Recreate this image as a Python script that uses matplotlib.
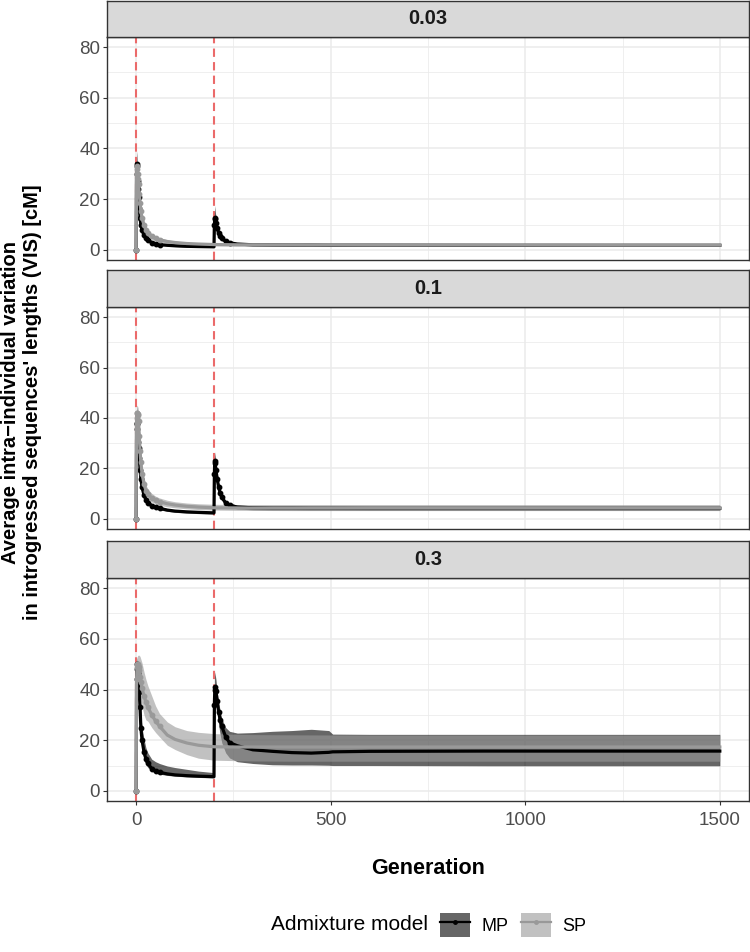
import matplotlib

matplotlib.use("Agg")
import matplotlib.pyplot as plt
from matplotlib.lines import Line2D
from matplotlib.patches import Patch
from matplotlib.legend_handler import HandlerTuple

plt.rcParams['font.family'] = ['Liberation Sans', 'DejaVu Sans']
plt.rcParams['axes.unicode_minus'] = True

# facet labels
facets = ["0.03", "0.1", "0.3"]

# generations sampled for each model (MP has a second pulse at 200)
gen_mp = [0, 1, 2, 3, 4, 5, 6, 8, 10, 12, 15, 20, 25, 30, 40, 50, 60, 80, 100, 130, 160, 200,
          201, 202, 203, 205, 208, 212, 216, 220, 230, 240, 260, 300, 350, 400, 450, 495, 505,
          600, 900, 1200, 1500]
gen_sp = [0, 1, 2, 3, 4, 5, 6, 8, 10, 12, 15, 20, 25, 30, 40, 50, 60, 80, 100, 130, 160, 200,
          260, 300, 400, 600, 900, 1200, 1500]

# ---- 0.03 ----
mp_mean_a = [0, 34, 33, 30, 27, 24, 21, 16.5, 12.5, 10, 7.8, 5.9, 4.6, 3.8, 2.9, 2.4, 2.1, 1.8, 1.6, 1.4, 1.3, 1.2,
             10, 12.5, 12, 10.5, 8.5, 6.6, 5.4, 4.6, 3.4, 2.8, 2.3, 2.0, 1.95, 1.9, 1.9, 1.85, 1.85, 1.85, 1.8, 1.8, 1.8]
mp_up_a = [0, 39, 37.5, 34, 30.5, 27.5, 24, 19, 14.5, 11.5, 9, 6.8, 5.4, 4.5, 3.4, 2.8, 2.5, 2.1, 1.9, 1.7, 1.6, 1.5,
           15, 17.5, 15.5, 13, 10.5, 8.2, 6.6, 5.6, 4.2, 3.4, 2.8, 2.5, 2.4, 2.3, 2.3, 2.25, 2.25, 2.2, 2.2, 2.2, 2.2]
mp_low_a = [0, 29, 28.5, 26, 23.5, 20.5, 18, 14, 10.5, 8.5, 6.6, 5.0, 3.8, 3.1, 2.4, 2.0, 1.7, 1.5, 1.3, 1.1, 1.0, 0.9,
            5, 8, 8.5, 8, 6.6, 5.1, 4.2, 3.6, 2.6, 2.2, 1.8, 1.6, 1.5, 1.5, 1.5, 1.45, 1.45, 1.45, 1.4, 1.4, 1.4]
sp_mean_a = [0, 30, 33, 32, 30, 28, 26, 22, 18.5, 15.5, 12.5, 9.8, 8.0, 6.8, 5.3, 4.5, 4.0, 3.3, 2.9, 2.5, 2.3, 2.1,
             2.0, 2.0, 1.95, 1.9, 1.9, 1.85, 1.85]
sp_up_a = [0, 34, 36.5, 35.5, 33.5, 31.5, 29.5, 25, 21, 17.8, 14.5, 11.5, 9.4, 8.0, 6.3, 5.4, 4.8, 4.0, 3.5, 3.0, 2.8, 2.6,
           2.5, 2.4, 2.35, 2.3, 2.3, 2.3, 2.3]
sp_low_a = [0, 26, 29.5, 28.5, 26.5, 24.5, 22.5, 19, 16, 13.2, 10.5, 8.1, 6.6, 5.6, 4.3, 3.6, 3.2, 2.6, 2.3, 2.0, 1.8, 1.6,
            1.5, 1.5, 1.45, 1.45, 1.4, 1.4, 1.4]

# ---- 0.1 ----
mp_mean_b = [0, 38, 37.5, 35.5, 33, 30.5, 28, 24, 19.5, 16, 12.5, 9.5, 7.6, 6.5, 5.2, 4.6, 4.2, 3.5, 3.1, 2.8, 2.6, 2.4,
             18, 23, 22, 19.5, 16, 12.5, 10.2, 8.6, 6.3, 5.4, 4.7, 4.4, 4.3, 4.3, 4.25, 4.25, 4.25, 4.2, 4.2, 4.2, 4.2]
mp_up_b = [0, 45, 43, 40.5, 37.5, 34.5, 31.5, 27, 22, 18, 14.2, 10.8, 8.7, 7.4, 6.0, 5.3, 4.8, 4.1, 3.6, 3.3, 3.1, 2.9,
           24, 26.6, 25, 22, 18.2, 14.3, 11.6, 9.8, 7.2, 6.2, 5.5, 5.2, 5.1, 5.1, 5.05, 5.0, 5.0, 5.0, 5.0, 5.0, 5.0]
mp_low_b = [0, 31, 32, 30.5, 28.5, 26.5, 24.5, 21, 17, 14, 10.8, 8.2, 6.5, 5.6, 4.4, 3.9, 3.6, 3.0, 2.6, 2.3, 2.1, 1.9,
            12, 19.5, 19, 17, 14, 10.7, 8.8, 7.4, 5.4, 4.6, 3.9, 3.6, 3.5, 3.5, 3.45, 3.45, 3.45, 3.4, 3.4, 3.4, 3.4]
sp_mean_b = [0, 40, 42, 42, 41.5, 41, 39, 33, 27, 22.5, 18, 14, 11.2, 9.8, 8.3, 7.4, 6.8, 6.0, 5.5, 5.0, 4.7, 4.4,
             4.35, 4.3, 4.3, 4.3, 4.3, 4.3, 4.3]
sp_up_b = [0, 43.5, 45, 45, 44.5, 44, 42, 36.5, 30.5, 25.5, 21, 16.5, 13.5, 11.8, 10.1, 9.0, 8.3, 7.4, 6.8, 6.3, 6.0, 5.8,
           5.7, 5.7, 5.7, 5.7, 5.7, 5.7, 5.7]
sp_low_b = [0, 36, 39, 39, 38.5, 38, 36, 29.5, 23.5, 19.5, 15, 11.5, 9.2, 8.0, 6.7, 6.0, 5.4, 4.8, 4.4, 4.0, 3.7, 3.5,
            3.4, 3.35, 3.3, 3.3, 3.3, 3.3, 3.3]

# ---- 0.3 ----
mp_mean_c = [0, 44, 50, 48, 46.5, 45, 43, 39, 33, 25, 20, 15.5, 12.5, 10.8, 8.8, 7.8, 7.3, 6.7, 6.3, 6.0, 5.8, 5.6,
             34, 40, 41, 39.5, 35.5, 31, 28, 25.5, 21.3, 19, 17.8, 16.2, 15.6, 15.1, 14.9, 15.2, 15.4, 15.6, 15.7, 15.7, 15.7]
mp_up_c = [0, 49, 53, 51, 49, 47.5, 46, 42, 37, 30, 25, 20.5, 17, 15, 12.5, 11.5, 10.8, 9.8, 9.2, 8.5, 7.8, 7.2,
           44, 47, 46, 44, 39.5, 35, 31.5, 28.5, 25, 23.5, 22.8, 23.0, 23.5, 23.8, 24.3, 23.8, 22.4, 22.3, 22.3, 22.3, 22.3]
mp_low_c = [0, 39, 46.5, 45, 43.5, 42, 40, 36, 29.5, 21, 16.5, 12.5, 10.5, 9.2, 7.8, 7.0, 6.6, 6.1, 5.8, 5.5, 5.3, 5.1,
            24, 32, 35, 34, 31, 26, 22, 19, 15, 13, 11.5, 10.8, 10.3, 10.2, 10.2, 10.1, 10.0, 10.0, 9.9, 9.9, 9.9]
sp_mean_c = [0, 44, 49, 50, 50, 49.5, 49, 47.5, 45, 43, 40.5, 37.5, 35, 33, 30, 27.5, 25.5, 22, 20.3, 18.9, 18, 17.4,
             17.3, 17.3, 17.3, 17.3, 17.3, 17.3, 17.3]
sp_up_c = [0, 48, 52, 53, 53.5, 53.5, 53.5, 53.5, 53, 52, 50.5, 47, 44, 41.5, 37.5, 33.5, 30.5, 27.2, 25.3, 23.8, 23.1, 22.6,
           22.3, 22.2, 22.1, 22.0, 22.0, 22.0, 22.0]
sp_low_c = [0, 40, 45, 47, 46.5, 45.5, 44.5, 42, 39, 36.5, 33.5, 30, 28, 27.5, 25, 23, 21.3, 18, 16.3, 14.3, 12.9, 12.1,
            11.9, 11.8, 11.7, 11.7, 11.7, 11.7, 11.7]

pulses = [0, 200]

mp_series = [(mp_mean_a, mp_low_a, mp_up_a), (mp_mean_b, mp_low_b, mp_up_b), (mp_mean_c, mp_low_c, mp_up_c)]
sp_series = [(sp_mean_a, sp_low_a, sp_up_a), (sp_mean_b, sp_low_b, sp_up_b), (sp_mean_c, sp_low_c, sp_up_c)]

MP_COL = "black"
SP_COL = "#999999"
ALPHA = 0.6
LW = 2.3
MS = 3.2

# dots only where the curve is steep (dense points merge into a line elsewhere)
mark_mp = [k for k, g in enumerate(gen_mp) if g <= 60 or 200 < g <= 240]
mark_sp = [k for k, g in enumerate(gen_sp) if g <= 60]

fig = plt.figure(figsize=(7.5, 9.52), dpi=100)
H = 952.0
W = 750.0

panels_px = [(37, 260), (307, 529), (578, 801)]
strips_px = [(1, 37), (270, 307), (541, 578)]
x0, x1 = 107, 749

for i, facet in enumerate(facets):
    top, bot = panels_px[i]
    ax = fig.add_axes([x0 / W, 1 - bot / H, (x1 - x0) / W, (bot - top) / H])

    mean, low, up = mp_series[i]
    ax.fill_between(gen_mp, low, up, color=MP_COL, alpha=ALPHA, lw=0, zorder=2)
    mean_s, low_s, up_s = sp_series[i]
    ax.fill_between(gen_sp, low_s, up_s, color=SP_COL, alpha=ALPHA, lw=0, zorder=2.1)
    for p in pulses:
        ax.axvline(p, color="#EB6A6A", lw=1.5, ls=(0, (4, 2.5)), zorder=1.5)
    ax.plot(gen_mp, mean, color=MP_COL, lw=LW, marker="o", ms=MS, markevery=mark_mp, zorder=3)
    ax.plot(gen_sp, mean_s, color=SP_COL, lw=LW, marker="o", ms=MS, markevery=mark_sp, zorder=3.1)

    ax.set_xlim(-75, 1575)
    ax.set_ylim(-4, 84)
    ax.set_yticks([0, 20, 40, 60, 80])
    ax.set_yticks([10, 30, 50, 70], minor=True)
    ax.set_xticks([0, 500, 1000, 1500])
    ax.set_xticks([250, 750, 1250], minor=True)
    ax.grid(which="major", color="#ebebeb", lw=1.1, zorder=0)
    ax.grid(which="minor", color="#ebebeb", lw=0.55, zorder=0)
    ax.set_axisbelow(True)
    for s in ax.spines.values():
        s.set_color("#333333")
        s.set_linewidth(1.0)
    ax.tick_params(axis="y", which="major", length=3, width=0.8, color="#333333",
                   labelsize=13.5, labelcolor="#4d4d4d", pad=2)
    ax.tick_params(which="minor", length=0)
    if i < 2:
        ax.tick_params(axis="x", which="major", length=0, labelbottom=False)
    else:
        ax.tick_params(axis="x", which="major", length=3, width=0.8, color="#333333",
                       labelsize=13.5, labelcolor="#4d4d4d", pad=5)

    st, sb = strips_px[i]
    sax = fig.add_axes([x0 / W, 1 - sb / H, (x1 - x0) / W, (sb - st) / H])
    sax.set_facecolor("#d9d9d9")
    sax.set_xticks([])
    sax.set_yticks([])
    for s in sax.spines.values():
        s.set_color("#333333")
        s.set_linewidth(1.0)
    sax.text(0.5, 0.5, facet, ha="center", va="center", fontsize=14.5,
             fontweight="bold", color="#1a1a1a", transform=sax.transAxes)

fig.text(22 / W, 1 - 402 / H,
         "Average intra\u2212individual variation\nin introgressed sequences' lengths (VIS) [cM]",
         rotation=90, ha="center", va="center", fontsize=14.5, fontweight="bold",
         linespacing=1.2)
fig.text((x0 + x1) / 2 / W, 1 - 868 / H, "Generation", ha="center", va="center",
         fontsize=15.5, fontweight="bold")

# legend
fig.text(428 / W, 1 - 925 / H, "Admixture model", ha="right", va="center", fontsize=15)
handles = [
    (Patch(facecolor=MP_COL, alpha=ALPHA, lw=0),
     Line2D([], [], color=MP_COL, lw=1.6, marker="o", ms=2.5)),
    (Patch(facecolor=SP_COL, alpha=ALPHA, lw=0),
     Line2D([], [], color=SP_COL, lw=1.6, marker="o", ms=2.5)),
]
fig.legend(handles, ["MP", "SP"], handler_map={tuple: HandlerTuple(ndivide=1, pad=0)},
           loc="center left", bbox_to_anchor=(440 / W, 1 - 925 / H), ncol=2, frameon=False,
           fontsize=13, handlelength=1.65, handleheight=1.6, handletextpad=0.65,
           columnspacing=0.7, borderpad=0, borderaxespad=0)

fig.savefig("out.png", dpi=100)
